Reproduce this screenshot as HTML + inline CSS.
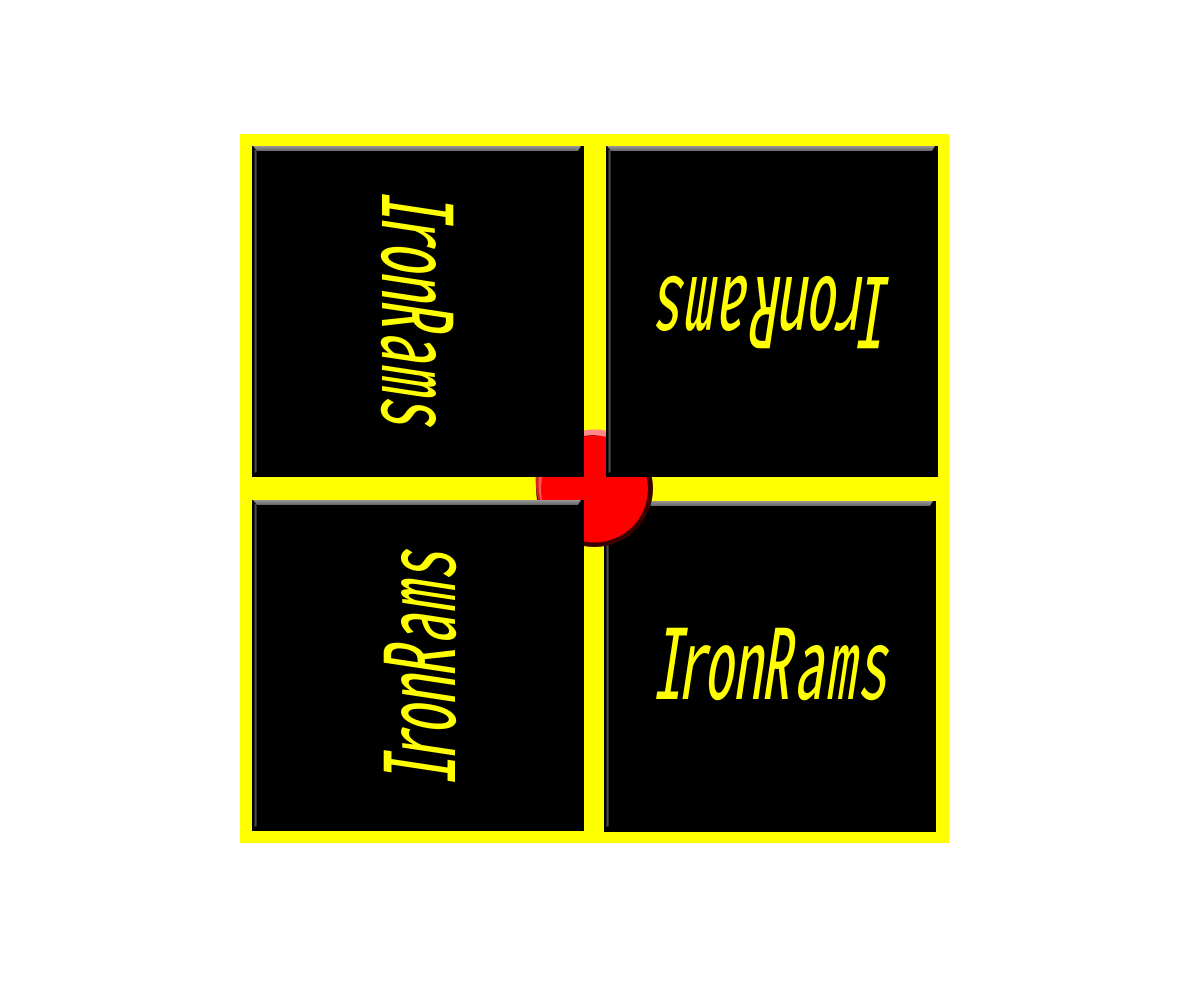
<!DOCTYPE html>
<html>
<head>
<meta charset="utf-8">
<style>
html,body{margin:0;padding:0;background:#fff;width:1200px;height:1000px;overflow:hidden}
svg{display:block}
text{font-family:"Noto Sans Mono CJK JP","Liberation Mono",monospace;font-style:italic;font-size:97px;fill:#ff0}
</style>
</head>
<body>
<svg width="1200" height="1000" viewBox="0 0 1200 1000" xmlns="http://www.w3.org/2000/svg">
<defs>
<linearGradient id="top" x1="0" y1="0" x2="0" y2="1"><stop offset="0" stop-color="#9a9a9a"/><stop offset="1" stop-color="#666"/></linearGradient>
<linearGradient id="left" x1="0" y1="0" x2="1" y2="0"><stop offset="0" stop-color="#000"/><stop offset="0.35" stop-color="#555"/><stop offset="1" stop-color="#222"/></linearGradient>
</defs>
<rect x="240" y="134" width="709" height="709" fill="#ff0"/>

<!-- bottom right panel sits under the button -->
<rect x="604" y="501" width="332" height="331" fill="#000"/>
<polygon points="605,501 933,501 930,506 609,506" fill="url(#top)"/>
<polygon points="606,504 609,506 609,826 606,827" fill="url(#left)"/>

<!-- centre button -->
<circle cx="594.5" cy="488.500" r="58.500" fill="#3a0000"/>
<path d="M536 488 A58.500 58.500 0 0 1 594.500 429.500 A58.500 58.500 0 0 1 648 465 L640 470 A56 52 0 0 0 594 435 A54 54 0 0 0 541 488 Z" fill="#f88"/>
<path d="M536 470 Q534.500 488 539 502 L546 502 L546 470 Z" fill="#d22"/>
<path d="M539 474 Q537.500 488 541 502 L546 502 L546 474 Z" fill="#f55"/>
<circle cx="594.5" cy="489" r="53.500" fill="#f00"/>
<rect x="543" y="470" width="58" height="32" fill="#f00"/>

<!-- remaining panels -->
<rect x="252" y="146" width="332" height="331" fill="#000"/>
<polygon points="253,146 581,146 578,151 257,151" fill="url(#top)"/>
<polygon points="254,149 257,151 257,472 254,473" fill="url(#left)"/>

<rect x="606" y="146" width="332" height="331" fill="#000"/>
<polygon points="607,146 935,146 932,151 611,151" fill="url(#top)"/>
<polygon points="608,149 611,151 611,472 608,473" fill="url(#left)"/>

<rect x="252" y="500" width="332" height="331" fill="#000"/>
<polygon points="253,500 581,500 578,505 257,505" fill="url(#top)"/>
<polygon points="254,503 257,505 257,826 254,827" fill="url(#left)"/>

<!-- labels -->
<text x="0 40 85 133 180 234 287 340" y="0" transform="translate(652 699) scale(.603 1)">IronRams</text>
<text x="0 40 85 133 180 234 287 340" y="0" transform="translate(893 277) rotate(180) scale(.603 1)">IronRams</text>
<text x="0 40 85 133 180 234 287 340" y="0" transform="translate(382 190) rotate(90) scale(.603 1)">IronRams</text>
<text x="0 40 85 133 180 234 287 340" y="0" transform="translate(455 786) rotate(-90) scale(.603 1)">IronRams</text>
</svg>
</body>
</html>
